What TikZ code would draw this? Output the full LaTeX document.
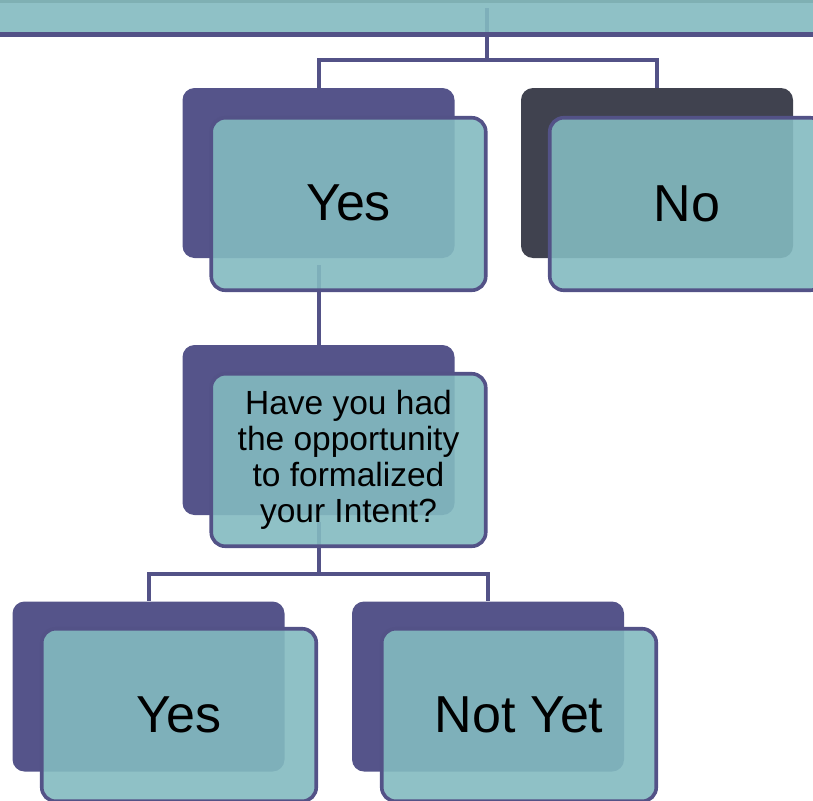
\documentclass[tikz,border=0pt]{standalone}
\usepackage{fontspec}
\setmainfont{Liberation Sans}
\usetikzlibrary{backgrounds}
\definecolor{boxteal}{RGB}{131,186,192}
\definecolor{stripteal}{RGB}{127,176,179}
\definecolor{boxpurple}{RGB}{85,84,138}
\definecolor{boxslate}{RGB}{64,66,79}
\definecolor{edgepurple}{RGB}{83,82,135}
\begin{document}
\begin{tikzpicture}[x=1pt, y=-1pt, line join=round, line cap=round,
	backbox/.style={fill=boxpurple, rounded corners=12pt, minimum width=272pt, minimum height=170pt, inner sep=0pt},
	frontbox/.style={draw=edgepurple, line width=3.6pt, fill=boxteal, fill opacity=0.9, text opacity=1, rounded corners=14pt, minimum width=274.5pt, minimum height=172.5pt, inner sep=0pt, align=center, font=\fontsize{52}{58}\selectfont},
	conn/.style={draw=edgepurple, line width=4pt, line cap=butt, line join=miter}]
	\useasboundingbox (0,0) rectangle (813,800);
	\clip (0,0) rectangle (813,800);
	
	% Thanh ngang phía trên
	\fill[stripteal] (-5,-5) rectangle (818,3);
	\fill[boxteal, fill opacity=0.9] (-5,3) rectangle (818,34.5);
	\draw[edgepurple, line width=4.6pt] (-5,34.5) -- (818,34.5);
	
	% Các hộp nền
	\node[backbox] (yesback) at (318.5,173) {};
	\node[backbox, fill=boxslate] (noback) at (657,173) {};
	\node[backbox] (qback) at (318.5,430) {};
	\node[backbox] (yestwoback) at (148.5,686.5) {};
	\node[backbox] (notyetback) at (488,686.5) {};
	
	% Các hộp chữ
	\node[frontbox] (yes) at (348.5,204) {\raisebox{2pt}{Yes}};
	\node[frontbox] (no) at (687,204) {No};
	\node[frontbox, font=\fontsize{33.5}{36}\selectfont] (q) at (348.5,460) {Have you had\\the opportunity\\to formalized\\your Intent?};
	\node[frontbox] (yestwo) at (179,715) {Yes};
	\node[frontbox] (notyet) at (519,715) {Not Yet};
	
	% Đường nối (nằm dưới các hộp)
	\begin{pgfonlayer}{background}
		\coordinate (bartap) at (487,8);
		\coordinate (hubtop) at (487,60);
		\coordinate (hubmid) at (318.5,574);
		\draw[conn] (bartap) -- (hubtop) -| (yesback.north);
		\draw[conn] (hubtop) -| (noback.north);
		\draw[conn] ([yshift=-7pt]yesback.south) -- (qback.north);
		\draw[conn] ([yshift=-7pt]qback.south) -- (hubmid) -| (yestwoback.north);
		\draw[conn] (hubmid) -| (notyetback.north);
	\end{pgfonlayer}
\end{tikzpicture}
\end{document}
